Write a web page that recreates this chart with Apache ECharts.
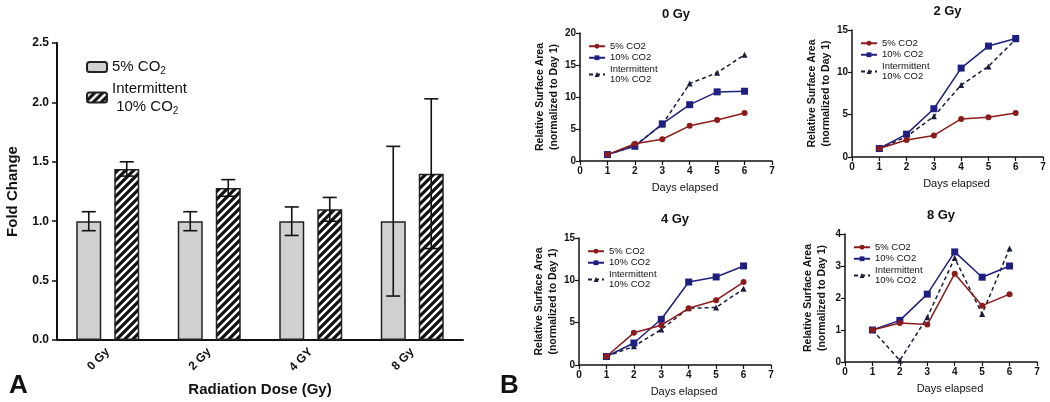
<!DOCTYPE html>
<html>
<head>
<meta charset="utf-8">
<script src="https://cdn.jsdelivr.net/npm/echarts@6/dist/echarts.min.js"></script>
<style>
  html, body { margin: 0; padding: 0; background: #fff; }
  #chart { width: 1050px; height: 402px; }
</style>
</head>
<body>
<div id="chart"></div>
<script>
// panel A data
const doseCats = ['0 Gy', '2 Gy', '4 GY', '8 Gy'];
const fold5 = [1, 1, 1, 1];
const err5 = [0.08, 0.08, 0.12, 0.63];
const foldInt = [1.44, 1.28, 1.10, 1.40];
const errInt = [0.06, 0.07, 0.10, 0.63];

// panel B data
const days = [1, 2, 3, 4, 5, 6];
const g0_5 = [1, 2.7, 3.4, 5.5, 6.4, 7.5];
const g0_10 = [1, 2.3, 5.8, 8.8, 10.8, 10.9];
const g0_int = [1, 2.4, 5.7, 12.1, 13.8, 16.6];
const g2_5 = [1, 2.0, 2.55, 4.5, 4.7, 5.2];
const g2_10 = [1, 2.7, 5.7, 10.5, 13.1, 14.0];
const g2_int = [1, 2.4, 4.8, 8.5, 10.7, 13.9];
const g4_5 = [1, 3.8, 4.7, 6.7, 7.65, 9.8];
const g4_10 = [1, 2.6, 5.4, 9.8, 10.4, 11.7];
const g4_int = [1, 2.2, 4.2, 6.7, 6.8, 9.0];
const g8_5 = [1, 1.22, 1.17, 2.76, 1.76, 2.12];
const g8_10 = [1, 1.3, 2.12, 3.44, 2.65, 3.0];
const g8_int = [1, 0.05, 1.4, 3.25, 1.5, 3.55];

const FONT = 'Liberation Sans, Arial, sans-serif';
const chart = echarts.init(document.getElementById('chart'));

// hatch pattern for intermittent bars
function hatch() {
  const s = 8;
  const c = document.createElement('canvas');
  c.width = s; c.height = s;
  const ctx = c.getContext('2d');
  ctx.fillStyle = '#fff';
  ctx.fillRect(0, 0, s, s);
  ctx.strokeStyle = '#111';
  ctx.lineWidth = 3.2;
  ctx.beginPath();
  ctx.moveTo(-1, s + 1); ctx.lineTo(s + 1, -1);
  ctx.moveTo(-s / 2 - 1, s / 2 + 1); ctx.lineTo(s / 2 + 1, -s / 2 - 1);
  ctx.moveTo(s / 2 - 1, s * 1.5 + 1); ctx.lineTo(s * 1.5 + 1, s / 2 - 1);
  ctx.stroke();
  return c;
}

function errBar(means, errs, offset, gridIdx) {
  return {
    type: 'custom',
    xAxisIndex: gridIdx, yAxisIndex: gridIdx,
    z: 5,
    data: means.map((m, i) => [i, m - errs[i], m + errs[i]]),
    renderItem: (params, api) => {
      const lo = api.coord([api.value(0), api.value(1)]);
      const hi = api.coord([api.value(0), api.value(2)]);
      const x = lo[0] + offset;
      const hw = 7;
      const st = { stroke: '#111', lineWidth: 1.6 };
      return {
        type: 'group',
        children: [
          { type: 'line', shape: { x1: x, y1: lo[1], x2: x, y2: hi[1] }, style: st },
          { type: 'line', shape: { x1: x - hw, y1: hi[1], x2: x + hw, y2: hi[1] }, style: st },
          { type: 'line', shape: { x1: x - hw, y1: lo[1], x2: x + hw, y2: lo[1] }, style: st }
        ]
      };
    }
  };
}

const smallPanels = [
  { title: '0 Gy', left: 580, top: 33, width: 192, height: 128, max: 20, step: 5, d: [g0_5, g0_10, g0_int] },
  { title: '2 Gy', left: 852, top: 30, width: 191, height: 127, max: 15, step: 5, d: [g2_5, g2_10, g2_int] },
  { title: '4 Gy', left: 579, top: 238, width: 192, height: 127, max: 15, step: 5, d: [g4_5, g4_10, g4_int] },
  { title: '8 Gy', left: 845, top: 234, width: 192, height: 128, max: 4, step: 1, d: [g8_5, g8_10, g8_int] }
];

const grids = [{ left: 57, top: 43, width: 406, height: 297 }];
const xAxes = [{
  type: 'category', gridIndex: 0, data: doseCats,
  axisLine: { lineStyle: { color: '#111', width: 2 } },
  axisTick: { alignWithLabel: true, length: 5, lineStyle: { width: 1.5 } },
  axisLabel: { rotate: 45, color: '#111', fontWeight: 'bold', fontSize: 12, fontFamily: FONT, margin: 10 },
  name: 'Radiation Dose (Gy)', nameLocation: 'middle', nameGap: 42,
  nameTextStyle: { color: '#111', fontWeight: 'bold', fontSize: 15, fontFamily: FONT }
}];
const yAxes = [{
  type: 'value', gridIndex: 0, min: 0, max: 2.5, interval: 0.5,
  axisLine: { show: true, lineStyle: { color: '#111', width: 2 } },
  axisTick: { show: true, length: 5, lineStyle: { width: 1.5 } },
  splitLine: { show: false },
  axisLabel: { color: '#111', fontWeight: 'bold', fontSize: 12, fontFamily: FONT, formatter: v => v.toFixed(1) },
  name: 'Fold Change', nameLocation: 'middle', nameGap: 37,
  nameTextStyle: { color: '#111', fontWeight: 'bold', fontSize: 15, fontFamily: FONT }
}];

const series = [
  { type: 'bar', name: '5% CO2', xAxisIndex: 0, yAxisIndex: 0, data: fold5, barWidth: 25, barGap: '52%',
    itemStyle: { color: '#d0d0d0', borderColor: '#222', borderWidth: 1.5 } },
  { type: 'bar', name: 'Intermittent\n 10% CO2', xAxisIndex: 0, yAxisIndex: 0, data: foldInt, barWidth: 25, barGap: '52%',
    itemStyle: { color: { image: hatch(), repeat: 'repeat' }, borderColor: '#222', borderWidth: 1.5 } },
  errBar(fold5, err5, -19, 0),
  errBar(foldInt, errInt, 19, 0)
];

const legends = [{
  data: ['5% CO2', 'Intermittent\n 10% CO2'],
  orient: 'vertical', left: 81, top: 53, itemGap: 3,
  itemWidth: 20, itemHeight: 10, selectedMode: false,
  formatter: n => n.replace('CO2', 'CO{s|2}'),
  textStyle: {
    color: '#111', fontSize: 15, fontFamily: FONT, lineHeight: 18,
    rich: { s: { fontSize: 10, fontFamily: FONT, color: '#111', padding: [9, 0, 0, 0] } }
  }
}];

const graphics = [
  { type: 'text', left: 9, top: 373, style: { text: 'A', fontSize: 26, fontWeight: 'bold', fill: '#111', fontFamily: FONT } },
  { type: 'text', left: 500, top: 373, style: { text: 'B', fontSize: 26, fontWeight: 'bold', fill: '#111', fontFamily: FONT } }
];
const lineColors = ['#8b1a1a', '#1f1f80', '#1b1b3a'];
const lineNames = ['5% CO2', '10% CO2', 'Intermittent\n10% CO2'];
const symbols = ['circle', 'rect', 'triangle'];

smallPanels.forEach((p, k) => {
  const gi = k + 1;
  grids.push({ left: p.left, top: p.top, width: p.width, height: p.height });
  xAxes.push({
    type: 'value', gridIndex: gi, min: 0, max: 7, interval: 1,
    axisLine: { lineStyle: { color: '#111', width: 1.5 } },
    axisTick: { length: 4, lineStyle: { width: 1.2 } },
    splitLine: { show: false },
    axisLabel: { color: '#111', fontWeight: 'bold', fontSize: 10, fontFamily: FONT, margin: 5 },
    name: 'Days elapsed', nameLocation: 'middle', nameGap: 21,
    nameTextStyle: { color: '#111', fontSize: 11, fontFamily: FONT, padding: [0, 0, 0, 18] }
  });
  yAxes.push({
    type: 'value', gridIndex: gi, min: 0, max: p.max, interval: p.step,
    axisLine: { show: true, lineStyle: { color: '#111', width: 1.5 } },
    axisTick: { show: true, length: 4, lineStyle: { width: 1.2 } },
    splitLine: { show: false },
    axisLabel: { color: '#111', fontWeight: 'bold', fontSize: 10, fontFamily: FONT, margin: 4 },
    name: 'Relative Surface Area\n(normalized to Day 1)', nameLocation: 'middle', nameGap: 16,
    nameTextStyle: { color: '#111', fontWeight: 'bold', fontSize: 10.5, fontFamily: FONT, lineHeight: 14 }
  });
  graphics.push({
    type: 'text', x: p.left + p.width / 2, y: p.top - 19,
    style: { text: p.title, align: 'center', verticalAlign: 'middle', fontSize: 13, fontWeight: 'bold', fill: '#111', fontFamily: FONT }
  });
  const names = lineNames.map(n => n + ' #' + k);
  p.d.forEach((vals, j) => {
    series.push({
      type: 'line', name: names[j], xAxisIndex: gi, yAxisIndex: gi,
      data: days.map((d, i) => [d, vals[i]]),
      symbol: symbols[j], symbolSize: j === 1 ? 7 : 6,
      z: 3 - j,
      lineStyle: { color: lineColors[j], width: 1.5, type: j === 2 ? [4, 3] : 'solid' },
      itemStyle: { color: lineColors[j] }
    });
  });
  legends.push({
    data: names, orient: 'vertical', left: p.left + 3, top: p.top + 3,
    itemWidth: 16, itemHeight: 6, itemGap: 1, selectedMode: false,
    formatter: n => n.split(' #')[0],
    textStyle: { color: '#111', fontSize: 9.5, fontFamily: FONT, lineHeight: 10.5 }
  });
});

chart.setOption({
  animation: false,
  grid: grids,
  xAxis: xAxes,
  yAxis: yAxes,
  legend: legends,
  series: series,
  graphic: graphics
});
</script>
</body>
</html>
